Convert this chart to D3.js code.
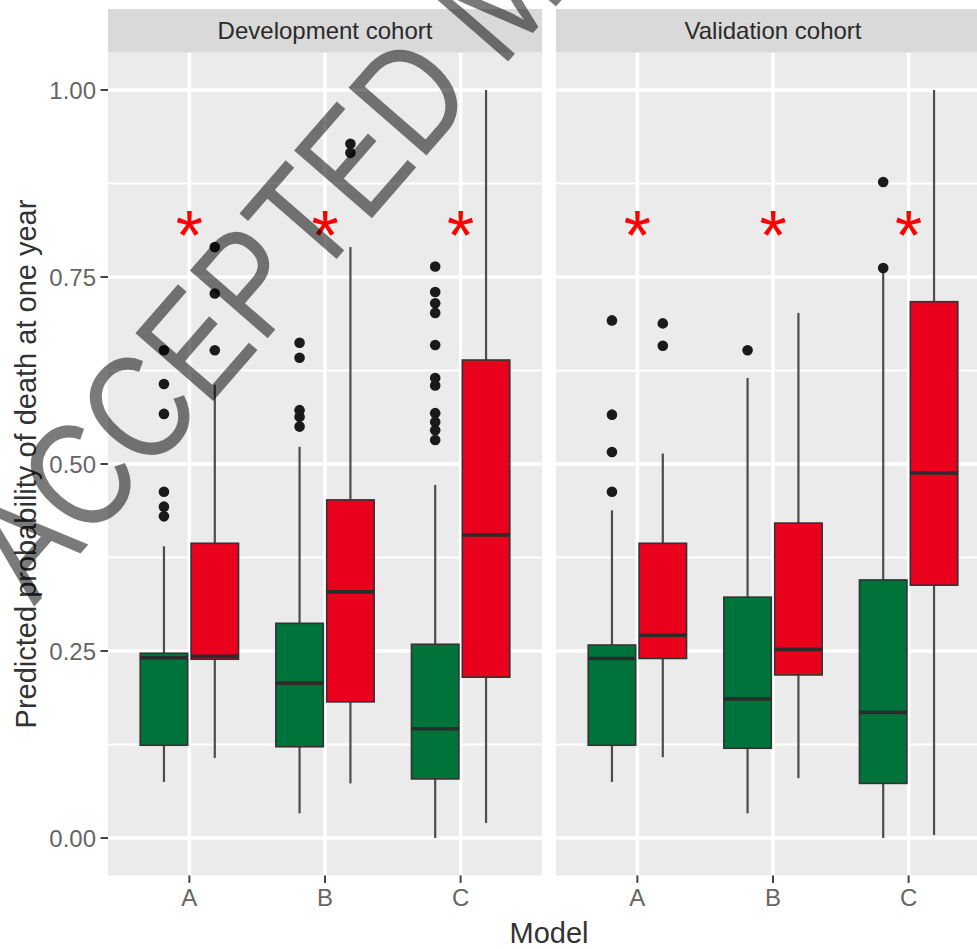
<!DOCTYPE html>
<html>
<head>
<meta charset="utf-8">
<script src="https://cdn.jsdelivr.net/npm/d3@7"></script>
<style>
  html, body { margin: 0; padding: 0; background: #ffffff; overflow: hidden; }
  svg { display: block; font-family: "Liberation Sans", Arial, Helvetica, sans-serif; }
</style>
</head>
<body>
<svg id="chart" width="977" height="949"></svg>
<script>
// ---------------- data ----------------
const cohorts = ["Development cohort", "Validation cohort"];
const models = ["A", "B", "C"];
const yTicks = [0, 0.25, 0.5, 0.75, 1.0];
const yMinorTicks = [0.125, 0.375, 0.625, 0.875];

// five-number summaries per model: [lower whisker, Q1, median, Q3, upper whisker]
const devGreenStats = [
  [0.075, 0.124, 0.241, 0.247, 0.390],
  [0.033, 0.122, 0.207, 0.287, 0.523],
  [0.000, 0.079, 0.146, 0.259, 0.472]
];
const devRedStats = [
  [0.107, 0.239, 0.243, 0.394, 0.606],
  [0.073, 0.182, 0.329, 0.452, 0.790],
  [0.020, 0.215, 0.405, 0.639, 1.000]
];
const valGreenStats = [
  [0.075, 0.124, 0.240, 0.258, 0.438],
  [0.033, 0.120, 0.186, 0.322, 0.615],
  [0.000, 0.073, 0.168, 0.345, 0.758]
];
const valRedStats = [
  [0.108, 0.240, 0.271, 0.394, 0.514],
  [0.080, 0.218, 0.252, 0.421, 0.702],
  [0.004, 0.338, 0.488, 0.717, 1.000]
];

// outliers per model
const devGreenOut = [
  [0.652, 0.607, 0.567, 0.463, 0.443, 0.430],
  [0.662, 0.642, 0.572, 0.563, 0.550],
  [0.764, 0.730, 0.715, 0.702, 0.659, 0.615, 0.605, 0.568, 0.556, 0.545, 0.532]
];
const devRedOut = [
  [0.790, 0.728, 0.652],
  [0.928, 0.916],
  []
];
const valGreenOut = [
  [0.692, 0.566, 0.516, 0.463],
  [0.652],
  [0.877, 0.762]
];
const valRedOut = [
  [0.688, 0.658],
  [],
  []
];

// significance markers
const starLabels = ["*", "*", "*"];
const starValue = 0.82;

const groupColors = ["#00733A", "#E8001C"];
const cohortStats = [[devGreenStats, devRedStats], [valGreenStats, valRedStats]];
const cohortOut = [[devGreenOut, devRedOut], [valGreenOut, valRedOut]];

// ---------------- layout ----------------
const svg = d3.select("#chart");
const panels = [{x0: 108, x1: 542}, {x0: 556, x1: 990}];
const yTop = 52.6, yBot = 875.4;
const stripTop = 9;
const y = d3.scaleLinear().domain([-0.05, 1.05]).range([yBot, yTop]);

cohorts.forEach((cohort, ci) => {
  const p = panels[ci];
  const x = d3.scalePoint().domain(models).range([p.x0, p.x1]).padding(0.6);
  const step = x.step();
  const boxW = step * 0.35;
  const dodge = d3.scalePoint().domain([0, 1]).range([-step * 0.1875, step * 0.1875]);
  const g = svg.append("g");

  // panel background
  g.append("rect").attr("x", p.x0).attr("y", yTop).attr("width", p.x1 - p.x0).attr("height", yBot - yTop)
    .attr("fill", "#EBEBEB");

  // grid
  g.selectAll(".minor").data(yMinorTicks).join("line")
    .attr("x1", p.x0).attr("x2", p.x1).attr("y1", d => y(d)).attr("y2", d => y(d))
    .attr("stroke", "#fff").attr("stroke-width", 1.9);
  g.selectAll(".major").data(yTicks).join("line")
    .attr("x1", p.x0).attr("x2", p.x1).attr("y1", d => y(d)).attr("y2", d => y(d))
    .attr("stroke", "#fff").attr("stroke-width", 3.6);
  g.selectAll(".vmajor").data(models).join("line")
    .attr("x1", d => x(d)).attr("x2", d => x(d)).attr("y1", yTop).attr("y2", yBot)
    .attr("stroke", "#fff").attr("stroke-width", 3.6);

  // boxes
  [0, 1].forEach(gi => {
    const stats = cohortStats[ci][gi];
    const outs = cohortOut[ci][gi];
    models.forEach((m, mi) => {
      const s = stats[mi];
      const cx = x(m) + dodge(gi);
      g.append("line").attr("x1", cx).attr("x2", cx).attr("y1", y(s[4])).attr("y2", y(s[3]))
        .attr("stroke", "#4d4d4d").attr("stroke-width", 2.2);
      g.append("line").attr("x1", cx).attr("x2", cx).attr("y1", y(s[1])).attr("y2", y(s[0]))
        .attr("stroke", "#4d4d4d").attr("stroke-width", 2.2);
      g.append("rect").attr("x", cx - boxW / 2).attr("width", boxW)
        .attr("y", y(s[3])).attr("height", y(s[1]) - y(s[3]))
        .attr("fill", groupColors[gi]).attr("stroke", "#333").attr("stroke-width", 1.6);
      g.append("line").attr("x1", cx - boxW / 2).attr("x2", cx + boxW / 2)
        .attr("y1", y(s[2])).attr("y2", y(s[2]))
        .attr("stroke", "#2b2b2b").attr("stroke-width", 3.6);
      g.selectAll(null).data(outs[mi]).join("circle")
        .attr("cx", cx).attr("cy", d => y(d)).attr("r", 5.3).attr("fill", "#1a1a1a");
    });
  });

  // stars
  g.selectAll(".star").data(models).join("text")
    .attr("x", d => x(d)).attr("y", y(starValue) + 35)
    .attr("text-anchor", "middle").attr("font-size", 70).attr("fill", "#FF0000")
    .text((d, i) => starLabels[i]);

  // strip
  g.append("rect").attr("x", p.x0).attr("y", stripTop).attr("width", p.x1 - p.x0).attr("height", yTop - stripTop)
    .attr("fill", "#D9D9D9");
  g.append("text").attr("x", (p.x0 + p.x1) / 2).attr("y", (stripTop + yTop) / 2 + 8.5)
    .attr("text-anchor", "middle").attr("font-size", 24).attr("fill", "#2a2a2a").text(cohort);

  // x axis
  g.selectAll(".xt").data(models).join("line")
    .attr("x1", d => x(d)).attr("x2", d => x(d)).attr("y1", yBot).attr("y2", yBot + 7.5)
    .attr("stroke", "#444").attr("stroke-width", 2);
  g.selectAll(".xl").data(models).join("text")
    .attr("x", d => x(d)).attr("y", yBot + 31)
    .attr("text-anchor", "middle").attr("font-size", 24).attr("fill", "#666").text(d => d);
});

// y axis
const ya = svg.append("g");
ya.selectAll("line").data(yTicks).join("line")
  .attr("x1", panels[0].x0 - 7.5).attr("x2", panels[0].x0).attr("y1", d => y(d)).attr("y2", d => y(d))
  .attr("stroke", "#444").attr("stroke-width", 2);
ya.selectAll("text").data(yTicks).join("text")
  .attr("x", panels[0].x0 - 12).attr("y", d => y(d) + 8.5)
  .attr("text-anchor", "end").attr("font-size", 24).attr("fill", "#666").text(d => d3.format(".2f")(d));

// axis titles
svg.append("text").attr("x", (panels[0].x0 + panels[1].x1) / 2).attr("y", 943)
  .attr("text-anchor", "middle").attr("font-size", 29).attr("fill", "#333").text("Model");
svg.append("text").attr("transform", `translate(36,${(yTop + yBot) / 2}) rotate(-90)`)
  .attr("text-anchor", "middle").attr("font-size", 29).attr("fill", "#333")
  .text("Predicted probability of death at one year");

// watermark
svg.append("text").attr("transform", "translate(34,607) rotate(-49) scale(0.83,1)")
  .attr("font-size", 150)
  .attr("fill", "#000").attr("fill-opacity", 0.52)
  .text("ACCEPTED MANUSCRIPT");
</script>
</body>
</html>
